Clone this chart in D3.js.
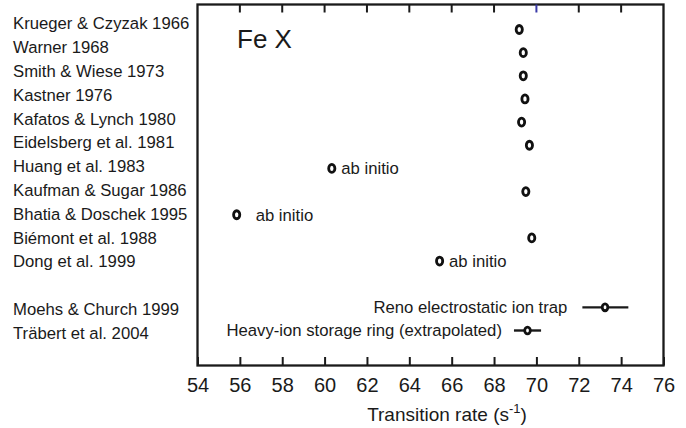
<!DOCTYPE html>
<html>
<head>
<meta charset="utf-8">
<script src="https://cdn.jsdelivr.net/npm/d3@7"></script>
<style>
  body { margin: 0; background: #fff; }
  text { font-family: "Liberation Sans", Arial, sans-serif; fill: #1a1a1a; }
</style>
</head>
<body>
<div id="canvas"></div>
<script>
"use strict"

/* Data */
let sources = ["Krueger & Czyzak 1966", "Warner 1968", "Smith & Wiese 1973", "Kastner 1976",
    "Kafatos & Lynch 1980", "Eidelsberg et al. 1981", "Huang et al. 1983", "Kaufman & Sugar 1986",
    "Bhatia & Doschek 1995", "Biémont et al. 1988", "Dong et al. 1999", "",
    "Moehs & Church 1999", "Träbert et al. 2004"];
let rates = [69.19, 69.38, 69.38, 69.46, 69.30, 69.67, 60.34, 69.50, 55.85, 69.78, 65.43, null, 73.24, 69.58];
let errLow = [null, null, null, null, null, null, null, null, null, null, null, null, 72.17, 68.94];
let errHigh = [null, null, null, null, null, null, null, null, null, null, null, null, 74.34, 70.22];
let notes = ["", "", "", "", "", "", "ab initio", "", "ab initio", "", "ab initio", "",
    "Reno electrostatic ion trap", "Heavy-ion storage ring (extrapolated)"];
let xTicks = [54, 56, 58, 60, 62, 64, 66, 68, 70, 72, 74, 76];

let rows = sources.map((s, i) => ({ source: s, key: "r" + i, rate: rates[i], lo: errLow[i], hi: errHigh[i], note: notes[i] }));

let drawing = d3.select("#canvas")
    .append("svg")
    .attr("width", 686)
    .attr("height", 428);

/* scales */
let x = d3.scaleLinear().domain([54, 76]).range([197.5, 663.5]);
let yLabel = d3.scalePoint().domain(rows.map(d => d.key)).range([23.5, 333]);
let yDot = d3.scalePoint().domain(rows.map(d => d.key)).range([29.5, 330.5]);
let plotTop = 4.5, plotBottom = 365.5;

/* frame */
drawing.append("rect")
    .attr("x", x(54)).attr("y", plotTop)
    .attr("width", x(76) - x(54)).attr("height", plotBottom - plotTop)
    .attr("fill", "none").attr("stroke", "#1a1a1a").attr("stroke-width", 2.3);

/* bottom axis: inward ticks */
let xAxis = d3.axisBottom(x).tickValues(xTicks).tickSizeInner(-8.5).tickSizeOuter(0).tickPadding(12);
let gx = drawing.append("g").attr("transform", `translate(0,${plotBottom})`).call(xAxis);
gx.select(".domain").remove();
gx.selectAll(".tick line").attr("stroke", "#1a1a1a").attr("stroke-width", 2);
gx.selectAll(".tick text").style("font-size", "20px").attr("fill", "#1a1a1a");

/* top ticks */
drawing.selectAll(".topTick")
    .data(xTicks.slice(1, -1))
    .enter().append("line")
    .attr("x1", d => x(d)).attr("x2", d => x(d))
    .attr("y1", plotTop).attr("y2", plotTop + 8)
    .attr("stroke", d => d === 70 ? "#3a3aa8" : "#1a1a1a")
    .attr("stroke-width", 2);

/* axis title */
let title = drawing.append("text")
    .attr("x", 447).attr("y", 421)
    .attr("text-anchor", "middle")
    .attr("font-size", 19);
title.append("tspan").text("Transition rate (s");
title.append("tspan").attr("font-size", 13).attr("dy", -8).text("-1");
title.append("tspan").attr("dy", 8).text(")");

/* ion label */
drawing.append("text")
    .attr("x", 237).attr("y", 48)
    .attr("font-size", 26)
    .text("Fe X");

/* source labels */
drawing.selectAll(".source")
    .data(rows.filter(d => d.source))
    .enter().append("text")
    .attr("x", 13)
    .attr("y", d => yLabel(d.key))
    .attr("dy", "0.35em")
    .attr("font-size", 16.7)
    .text(d => d.source);

/* error bars */
let withErr = rows.filter(d => d.lo != null);
drawing.selectAll(".err")
    .data(withErr)
    .enter().append("line")
    .attr("x1", d => x(d.lo)).attr("x2", d => x(d.hi))
    .attr("y1", d => yDot(d.key)).attr("y2", d => yDot(d.key))
    .attr("stroke", "#1a1a1a").attr("stroke-width", 2.4);

/* points */
drawing.selectAll(".pt")
    .data(rows.filter(d => d.rate != null))
    .enter().append("ellipse")
    .attr("cx", d => x(d.rate))
    .attr("cy", d => yDot(d.key))
    .attr("rx", d => d.lo != null ? 2.8 : 3.1)
    .attr("ry", d => d.lo != null ? 3.4 : 4)
    .attr("fill", "#fff")
    .attr("stroke", "#111")
    .attr("stroke-width", 2.8);

/* notes */
let noted = rows.filter(d => d.note);
drawing.selectAll(".note")
    .data(noted)
    .enter().append("text")
    .attr("x", d => {
        if (d.lo != null) return x(d.lo) - (d.rate > 72 ? 15 : 12);
        return x(d.rate) + (d.rate < 58 ? 19 : 9.5);
    })
    .attr("y", d => yDot(d.key))
    .attr("dy", "0.35em")
    .attr("text-anchor", d => d.lo != null ? "end" : "start")
    .attr("font-size", 16.7)
    .text(d => d.note);
</script>
</body>
</html>
